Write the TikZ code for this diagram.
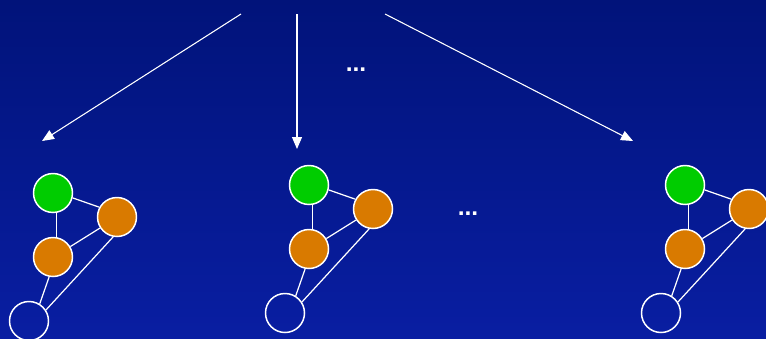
\documentclass[tikz,border=0pt]{standalone}
\usepackage{fontspec}
\setmainfont{Liberation Sans}
\usetikzlibrary{arrows.meta}
\definecolor{bgtop}{RGB}{1,19,122}
\definecolor{bgbot}{RGB}{9,30,162}
\definecolor{grgreen}{HTML}{00CC00}
\definecolor{grorange}{HTML}{D97A00}
\tikzset{
  vtx/.style={circle, draw=white, line width=0.85pt, minimum size=0.78cm, inner sep=0pt},
  srcv/.style={vtx, fill=grgreen},
  hitv/.style={vtx, fill=grorange},
  nonev/.style={vtx},
  edg/.style={draw=white, line width=0.7pt},
  arr/.style={-{Triangle[length=2.4mm, width=2mm]}, draw=white, fill=white, line width=0.6pt},
  ell/.style={text=white, inner sep=0pt, font=\bfseries\fontsize{14}{16}\selectfont},
}
\begin{document}
\begin{tikzpicture}[x=0.02cm, y=-0.02cm]
  \shade[top color=bgtop, bottom color=bgbot] (0,0) rectangle (766,338);
  \useasboundingbox (0,0) rectangle (766,338);
  % three copies of the small graph
  \foreach \g/\x/\y in {a/53/193, b/309/185, c/685/185} {
    \node[srcv] (\g s) at (\x,\y) {};
    \node[hitv] (\g r) at (\x+64,\y+24) {};
    \node[hitv] (\g l) at (\x,\y+64) {};
    \node[nonev] (\g e) at (\x-24,\y+128) {};
    \draw[edg] (\g s.-14) -- (\g r.151);
    \draw[edg] (\g s.-79) -- (\g l.79);
    \draw[edg] (\g l.31) -- (\g r.213);
    \draw[edg] (\g l.-101) -- (\g e.58);
    \draw[edg] (\g r.-101) -- (\g e.33);
  }
  % arrows from the top
  \coordinate (ta) at (241,14);
  \coordinate (tb) at (297,14);
  \coordinate (tc) at (385,14);
  \coordinate (ha) at (42,141);
  \coordinate (hb) at (297,149);
  \coordinate (hc) at (633,141);
  \draw[arr] (ta) -- (ha);
  \draw[arr] (tb) -- (hb);
  \draw[arr] (tc) -- (hc);
  \node[ell] (d1) at (356,70) {...};
  \node[ell] (d2) at (468,214) {...};
\end{tikzpicture}
\end{document}
